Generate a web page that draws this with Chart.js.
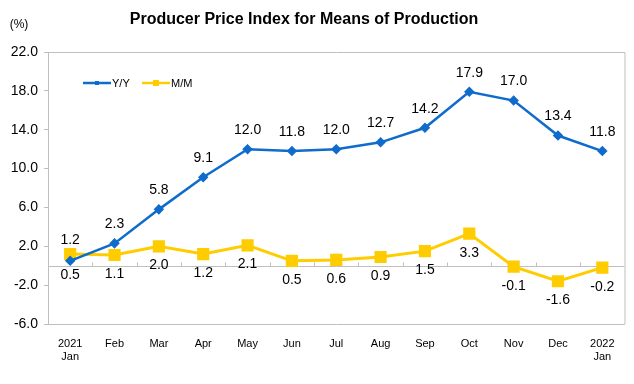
<!DOCTYPE html>
<html>
<head>
<meta charset="utf-8">
<script src="https://cdn.jsdelivr.net/npm/chart.js@4"></script>
<style>
  body { margin: 0; background: #fff; }
  #wrap { width: 634px; height: 384px; }
</style>
</head>
<body>
<div id="wrap"><canvas id="ppiChart" width="634" height="384"></canvas></div>
<script>
// chart data
const months = [["2021", "Jan"], "Feb", "Mar", "Apr", "May", "Jun", "Jul", "Aug", "Sep", "Oct", "Nov", "Dec", ["2022", "Jan"]];
const yoy = [0.5, 2.3, 5.8, 9.1, 12.0, 11.8, 12.0, 12.7, 14.2, 17.9, 17.0, 13.4, 11.8];
const mom = [1.2, 1.1, 2.0, 1.2, 2.1, 0.5, 0.6, 0.9, 1.5, 3.3, -0.1, -1.6, -0.2];
const seriesNames = ["Y/Y", "M/M"];
const chartTitle = "Producer Price Index for Means of Production";
const unitLabel = "(%)";

const FONT = "'Liberation Sans', Arial, sans-serif";
const GREY = "#bfbfbf";

// frame + zero line go under the lines
const underlay = {
  id: "underlay",
  beforeDatasetsDraw(chart) {
    const ctx = chart.ctx;
    const area = chart.chartArea;
    const x = chart.scales.x;
    const y = chart.scales.y;
    ctx.save();
    ctx.strokeStyle = GREY;
    ctx.lineWidth = 1;
    ctx.beginPath();
    ctx.moveTo(area.left, area.top + 0.5);
    ctx.lineTo(area.right + 0.5, area.top + 0.5);
    ctx.lineTo(area.right + 0.5, area.bottom);
    ctx.stroke();

    // zero line with small ticks between months
    const zeroY = Math.round(y.getPixelForValue(0)) + 0.5;
    ctx.beginPath();
    ctx.moveTo(area.left, zeroY);
    ctx.lineTo(area.right, zeroY);
    for (let i = 1; i < months.length; i++) {
      const bx = Math.round((x.getPixelForValue(i - 1) + x.getPixelForValue(i)) / 2) + 0.5;
      ctx.moveTo(bx, zeroY);
      ctx.lineTo(bx, zeroY - 4);
    }
    ctx.stroke();
    ctx.restore();
  }
};

// title, unit, legend and value labels
const extras = {
  id: "extras",
  afterDatasetsDraw(chart) {
    const ctx = chart.ctx;
    ctx.save();

    ctx.fillStyle = "#000";
    ctx.textAlign = "center";
    ctx.textBaseline = "middle";
    ctx.font = "bold 16px " + FONT;
    ctx.fillText(chartTitle, 304, 20);
    ctx.font = "12px " + FONT;
    ctx.fillText(unitLabel, 19, 25);

    // legend inside the plot
    const legendY = 83;
    const legendX = [83, 142];
    chart.data.datasets.forEach((ds, i) => {
      const lx = legendX[i];
      ctx.strokeStyle = ds.borderColor;
      ctx.lineWidth = 2.5;
      ctx.beginPath();
      ctx.moveTo(lx, legendY);
      ctx.lineTo(lx + 28, legendY);
      ctx.stroke();
      ctx.fillStyle = ds.borderColor;
      const s = i === 0 ? 2 : 3;
      ctx.fillRect(lx + 14 - s, legendY - s, 2 * s, 2 * s);
      ctx.fillStyle = "#000";
      ctx.textAlign = "left";
      ctx.font = "11px " + FONT;
      ctx.fillText(ds.label, lx + 29, legendY + 1);
    });

    // value labels: Y/Y above, M/M below (first month swapped)
    ctx.font = "14px " + FONT;
    ctx.textAlign = "center";
    ctx.fillStyle = "#000";
    chart.data.datasets.forEach((ds, di) => {
      const meta = chart.getDatasetMeta(di);
      meta.data.forEach((pt, i) => {
        let above = di === 0;
        if (i === 0) above = !above;
        const off = i === 0 ? 14 : 19;
        const ly = above ? pt.y - off : pt.y + off;
        ctx.fillText(ds.data[i].toFixed(1), pt.x, ly);
      });
    });

    ctx.restore();
  }
};

new Chart(document.getElementById("ppiChart"), {
  type: "line",
  data: {
    labels: months,
    datasets: [
      {
        label: seriesNames[0],
        data: yoy,
        borderColor: "#0f6bcc",
        backgroundColor: "#0f6bcc",
        borderWidth: 2.5,
        pointStyle: "rectRot",
        pointRadius: 3.5,
        pointHoverRadius: 3.5,
        tension: 0
      },
      {
        label: seriesNames[1],
        data: mom,
        borderColor: "#ffcc00",
        backgroundColor: "#ffcc00",
        borderWidth: 3,
        pointStyle: "rect",
        pointRadius: 6.5,
        pointHoverRadius: 6.5,
        tension: 0
      }
    ]
  },
  options: {
    responsive: false,
    animation: false,
    events: [],
    layout: { padding: { top: 52, right: 6, left: 0, bottom: 0 } },
    plugins: {
      legend: { display: false },
      tooltip: { enabled: false },
      title: { display: false }
    },
    scales: {
      x: {
        offset: true,
        grid: { display: false },
        border: { display: true, color: GREY },
        ticks: {
          color: "#000",
          font: { family: FONT, size: 11 },
          padding: 5,
          maxRotation: 0,
          autoSkip: false
        },
        afterFit: (s) => { s.height = 60; }
      },
      y: {
        min: -6,
        max: 22,
        grid: {
          drawOnChartArea: false,
          tickColor: GREY,
          tickLength: 4
        },
        border: { display: true, color: GREY },
        ticks: {
          stepSize: 4,
          color: "#000",
          font: { family: FONT, size: 14 },
          padding: 6,
          callback: (v) => v.toFixed(1)
        },
        afterFit: (s) => { s.width = 48; }
      }
    }
  },
  plugins: [underlay, extras]
});
</script>
</body>
</html>
